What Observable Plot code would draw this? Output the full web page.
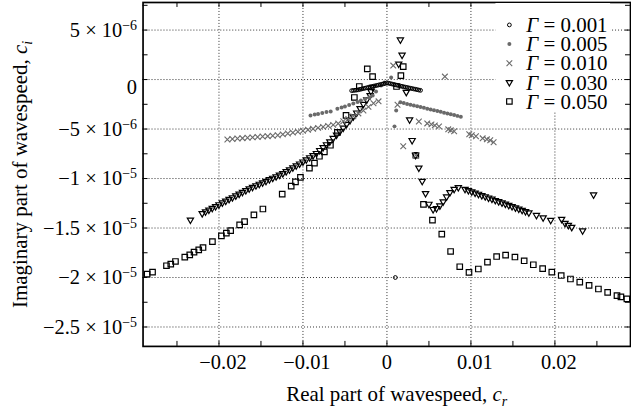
<!DOCTYPE html>
<html><head><meta charset="utf-8">
<script src="https://cdn.jsdelivr.net/npm/d3@7"></script>
<script src="https://cdn.jsdelivr.net/npm/@observablehq/plot@0.6"></script>
<style>html,body{margin:0;padding:0;background:#fff;overflow:hidden;}</style>
</head><body><div id="chart"></div>
<script>
// Γ = 0.001 (open circles)
const g001x = [-0.0042,-0.0040,-0.0038,-0.0036,-0.0034,-0.0032,-0.0030,-0.0028,-0.0026,-0.0024,-0.0022,-0.0020,-0.0018,-0.0016,-0.0014,-0.0012,-0.0010,-0.0008,-0.0006,-0.0004,-0.0002,0.0000,0.0002,0.0004,0.0006,0.0008,0.0010,0.0012,0.0014,0.0016,0.0018,0.0020,0.0022,0.0024,0.0026,0.0028,0.0030,0.0032,0.0034,0.0036,0.0038,0.0040,0.0010];
const g001y = [-1.12e-6,-1.10e-6,-1.08e-6,-1.06e-6,-1.03e-6,-0.99e-6,-0.95e-6,-0.91e-6,-0.87e-6,-0.83e-6,-0.79e-6,-0.75e-6,-0.71e-6,-0.67e-6,-0.63e-6,-0.59e-6,-0.55e-6,-0.51e-6,-0.47e-6,-0.43e-6,-0.39e-6,-0.34e-6,-0.37e-6,-0.41e-6,-0.45e-6,-0.49e-6,-0.53e-6,-0.57e-6,-0.61e-6,-0.65e-6,-0.69e-6,-0.73e-6,-0.77e-6,-0.80e-6,-0.84e-6,-0.88e-6,-0.91e-6,-0.95e-6,-0.98e-6,-1.02e-6,-1.06e-6,-1.09e-6,-20.0e-6];
// Γ = 0.005 (grey filled dots)
const g005x = [-0.0091,-0.0086,-0.0082,-0.0077,-0.0072,-0.0067,-0.0059,-0.0054,-0.0050,-0.0045,-0.0040,-0.0035,-0.0031,-0.0026,-0.0021,-0.0017,-0.0013,-0.0007,-0.0003,0.0005,0.0016,0.0020,0.0024,0.0028,0.0032,0.0036,0.0040,0.0044,0.0048,0.0052,0.0056,0.0060,0.0064,0.0068,0.0072,0.0076,0.0080,0.0084,0.0088,0.0011,0.0009];
const g005y = [-3.62e-6,-3.52e-6,-3.47e-6,-3.37e-6,-3.27e-6,-3.22e-6,-2.95e-6,-2.82e-6,-2.72e-6,-2.57e-6,-2.41e-6,-2.26e-6,-2.11e-6,-1.96e-6,-1.81e-6,-1.61e-6,-1.21e-6,-0.60e-6,-0.30e-6,0.20e-6,-2.30e-6,-2.38e-6,-2.46e-6,-2.54e-6,-2.62e-6,-2.70e-6,-2.78e-6,-2.86e-6,-2.94e-6,-3.02e-6,-3.10e-6,-3.18e-6,-3.26e-6,-3.35e-6,-3.43e-6,-3.51e-6,-3.59e-6,-3.67e-6,-3.75e-6,-3.12e-6,-4.73e-6];
// Γ = 0.010 (grey crosses)
const g010x = [-0.0190,-0.0184,-0.0178,-0.0172,-0.0166,-0.0160,-0.0154,-0.0148,-0.0142,-0.0136,-0.0130,-0.0124,-0.0118,-0.0112,-0.0106,-0.0100,-0.0094,-0.0088,-0.0082,-0.0076,-0.0070,-0.0064,-0.0058,-0.0052,-0.0046,-0.0040,-0.0034,-0.0028,-0.0022,-0.0016,-0.0010,
  0.0038,0.0048,0.0053,0.0057,0.0062,0.0073,0.0076,0.0080,0.0098,0.0101,0.0106,0.0114,0.0119,0.0123,0.0127,
  0.0069,0.00075,0.00126,0.00194,0.00344];
const g010y = [-6.05e-6,-6.00e-6,-5.96e-6,-5.92e-6,-5.88e-6,-5.84e-6,-5.80e-6,-5.76e-6,-5.72e-6,-5.68e-6,-5.63e-6,-5.54e-6,-5.45e-6,-5.36e-6,-5.27e-6,-5.18e-6,-5.08e-6,-4.98e-6,-4.88e-6,-4.78e-6,-4.68e-6,-4.58e-6,-4.45e-6,-4.22e-6,-3.98e-6,-3.72e-6,-3.42e-6,-3.12e-6,-2.76e-6,-2.40e-6,-2.20e-6,
  -4.23e-6,-4.43e-6,-4.53e-6,-4.63e-6,-4.73e-6,-5.03e-6,-5.13e-6,-5.23e-6,-5.53e-6,-5.63e-6,-5.73e-6,-5.94e-6,-6.04e-6,-6.14e-6,-6.34e-6,
  0.30e-6,1.41e-6,-2.55e-6,-6.74e-6,-7.65e-6];
// Γ = 0.030 (open down-triangles)
const g030x = [-0.0234,
  -0.0220,-0.0216,-0.0212,-0.0208,-0.0204,-0.0200,-0.0196,-0.0192,-0.0188,-0.0184,-0.0180,-0.0176,-0.0172,-0.0168,-0.0164,
  -0.0160,-0.0156,-0.0152,-0.0148,-0.0144,-0.0140,-0.0136,-0.0132,-0.0128,-0.0124,
  -0.0120,-0.0116,-0.0112,-0.0108,-0.0104,-0.0100,-0.0096,-0.0092,-0.0088,
  -0.0084,-0.0080,-0.0076,-0.0072,-0.0068,-0.0064,-0.0060,-0.0056,-0.0052,-0.0048,-0.0044,-0.0040,
  -0.0036,-0.0032,-0.0028,-0.0024,-0.0020,-0.0019,-0.0017,
  0.0016,0.0018,0.0014,
  0.0023,0.0027,0.0030,0.0034,0.0038,0.0042,0.0046,0.0050,0.0055,0.0059,0.0063,0.0067,0.0071,0.0075,0.0080,0.0085,
  0.0093,0.0097,0.0101,0.0105,0.0109,0.0113,0.0117,0.0121,0.0125,0.0129,0.0133,0.0137,0.0141,0.0145,0.0149,0.0153,0.0157,0.0161,0.0165,0.0169,
  0.0178,0.0186,0.0195,0.0208,0.0212,0.0216,0.0220,0.0233,0.0246];
const g030y = [-14.18e-6,
  -13.53e-6,-13.35e-6,-13.17e-6,-12.99e-6,-12.81e-6,-12.63e-6,-12.45e-6,-12.27e-6,-12.09e-6,-11.92e-6,-11.74e-6,-11.56e-6,-11.38e-6,-11.20e-6,-11.02e-6,
  -10.87e-6,-10.71e-6,-10.56e-6,-10.41e-6,-10.26e-6,-10.10e-6,-9.95e-6,-9.80e-6,-9.64e-6,-9.49e-6,
  -9.29e-6,-9.10e-6,-8.90e-6,-8.70e-6,-8.51e-6,-8.31e-6,-8.09e-6,-7.88e-6,-7.67e-6,
  -7.45e-6,-7.15e-6,-6.86e-6,-6.57e-6,-6.27e-6,-5.93e-6,-5.59e-6,-5.24e-6,-4.89e-6,-4.51e-6,-4.13e-6,-3.75e-6,
  -3.36e-6,-2.92e-6,-2.48e-6,-2.04e-6,-1.60e-6,-1.20e-6,-0.77e-6,
  4.02e-6,2.48e-6,1.58e-6,
  -1.28e-6,-4.05e-6,-6.14e-6,-7.65e-6,-8.92e-6,-10.26e-6,-11.50e-6,-12.58e-6,-13.11e-6,-13.01e-6,-12.75e-6,-12.34e-6,-11.84e-6,-11.40e-6,-11.07e-6,-10.90e-6,
  -11.07e-6,-11.20e-6,-11.32e-6,-11.45e-6,-11.57e-6,-11.70e-6,-11.82e-6,-11.95e-6,-12.07e-6,-12.20e-6,-12.32e-6,-12.45e-6,-12.57e-6,-12.70e-6,-12.82e-6,-12.95e-6,-13.07e-6,-13.20e-6,-13.32e-6,-13.45e-6,
  -13.71e-6,-13.95e-6,-14.21e-6,-14.11e-6,-14.52e-6,-14.72e-6,-14.92e-6,-15.26e-6,-11.64e-6];
// Γ = 0.050 (open squares)
const g050x = [-0.02855,-0.02791,-0.02625,-0.02574,-0.02518,-0.02407,-0.02348,-0.02297,-0.02241,-0.0219,-0.02078,-0.01971,-0.01912,-0.01861,-0.01754,-0.01695,-0.01584,-0.01477,-0.01247,-0.0114,-0.01089,-0.0103,-0.00923,-0.00863,-0.00804,-0.00745,-0.00673,-0.0059,-0.00487,-0.00388,-0.00329,-0.00234,-0.00171,
  0.00114,0.00166,0.00194,0.00344,0.00435,0.00542,0.00653,0.00758,0.00867,0.00977,0.01088,0.01197,0.01306,0.01413,0.01524,0.01634,0.01743,0.01854,0.01963,0.02075,0.02185,0.02296,0.02407,0.02518,0.02628,0.02739,0.02786,0.02857];
const g050y = [-19.65e-6,-19.45e-6,-18.81e-6,-18.64e-6,-18.38e-6,-17.94e-6,-17.71e-6,-17.43e-6,-17.20e-6,-16.97e-6,-16.37e-6,-15.79e-6,-15.52e-6,-15.26e-6,-14.69e-6,-14.36e-6,-13.68e-6,-13.08e-6,-11.57e-6,-10.76e-6,-10.33e-6,-9.89e-6,-8.95e-6,-8.45e-6,-7.75e-6,-7.31e-6,-6.64e-6,-5.33e-6,-3.62e-6,-1.81e-6,-0.70e-6,1.08e-6,0.30e-6,
  -0.70e-6,0.40e-6,1.31e-6,-7.65e-6,-12.61e-6,-14.21e-6,-15.62e-6,-17.37e-6,-18.91e-6,-19.49e-6,-19.14e-6,-18.44e-6,-17.88e-6,-17.74e-6,-17.93e-6,-18.31e-6,-18.71e-6,-19.11e-6,-19.45e-6,-19.80e-6,-20.15e-6,-20.47e-6,-20.79e-6,-21.16e-6,-21.50e-6,-21.83e-6,-21.96e-6,-22.16e-6];

const seriesLabels = ["0.001","0.005","0.010","0.030","0.050"];
const xGridValues = [-0.02,-0.01,0,0.01,0.02];
const xTickLabels = ["−0.02","−0.01","0","0.01","0.02"];
const yGridValues = [5e-6,0,-5e-6,-1e-5,-1.5e-5,-2e-5,-2.5e-5];
const yTickLabels = ["5 × 10^−6","0","−5 × 10^−6","−1 × 10^−5","−1.5 × 10^−5","−2 × 10^−5","−2.5 × 10^−5"];
const xMinorTicks = [-0.025,-0.02,-0.015,-0.01,-0.005,0,0.005,0.01,0.015,0.02,0.025];
const yMinorTicks = [7.5e-6,5e-6,2.5e-6,0,-2.5e-6,-5e-6,-7.5e-6,-1e-5,-1.25e-5,-1.5e-5,-1.75e-5,-2e-5,-2.25e-5,-2.5e-5];
const xDomain = [-0.02904, 0.029];
const yDomain = [-2.696e-5, 7.786e-6];

const rows = (xs, ys) => xs.map((x, i) => ({x, y: ys[i]}));
const triDown = {draw(ctx, size) {
  const s = Math.sqrt(size) * 0.6824, t = s / 2, u = s * Math.sqrt(3) / 2;
  ctx.moveTo(0, s); ctx.lineTo(u, -t); ctx.lineTo(-u, -t); ctx.closePath();
}};
const grey = "#6a6a6a";
const FONT = "'Liberation Serif', 'Times New Roman', serif";
const TICK_FS = 20.5;

const xt = xGridValues.map((v, i) => ({v, label: xTickLabels[i]}));
const yt = yGridValues.map((v, i) => ({v, label: yTickLabels[i]}));

const chart = Plot.plot({
  width: 633, height: 413,
  marginLeft: 143, marginRight: 1, marginTop: 2, marginBottom: 66,
  x: {domain: xDomain, axis: null},
  y: {domain: yDomain, axis: null},
  style: {fontFamily: FONT, background: "white", color: "black"},
  marks: [
    Plot.gridX(xGridValues, {stroke: "#333", strokeOpacity: 1, strokeDasharray: "1,2"}),
    Plot.gridY(yGridValues, {stroke: "#333", strokeOpacity: 1, strokeDasharray: "1,2"}),
    Plot.ruleX(xMinorTicks, {x: d => d, y1: yDomain[0], y2: yDomain[0], insetTop: -5, stroke: "black"}),
    Plot.ruleX(xMinorTicks, {x: d => d, y1: yDomain[1], y2: yDomain[1], insetBottom: -5, stroke: "black"}),
    Plot.ruleY(yMinorTicks, {y: d => d, x1: xDomain[0], x2: xDomain[0], insetRight: -5, stroke: "black"}),
    Plot.ruleY(yMinorTicks, {y: d => d, x1: xDomain[1], x2: xDomain[1], insetLeft: -5, stroke: "black"}),
    Plot.dot(rows(g050x, g050y), {x: "x", y: "y", symbol: d3.symbolSquare2, r: 3.5, stroke: "black", strokeWidth: 1.2, fill: "none"}),
    Plot.dot(rows(g030x, g030y), {x: "x", y: "y", symbol: triDown, r: 3, stroke: "black", strokeWidth: 1.2, fill: "none"}),
    Plot.dot(rows(g010x, g010y), {x: "x", y: "y", symbol: "times", r: 2.7, stroke: grey, strokeWidth: 1.1}),
    Plot.dot(rows(g005x, g005y), {x: "x", y: "y", r: 2, fill: grey, stroke: "none"}),
    Plot.dot(rows(g001x, g001y), {x: "x", y: "y", r: 1.9, stroke: "black", strokeWidth: 1, fill: "none"}),
    Plot.frame({stroke: "black", strokeWidth: 1.7}),
    // text marks (order matters for post-processing below)
    Plot.text(xt.filter(d => d.v !== 0), {x: "v", text: "label", frameAnchor: "bottom", lineAnchor: "middle", dy: 16, dx: 4, fontSize: TICK_FS}),
    Plot.text(xt.filter(d => d.v === 0), {x: "v", text: "label", frameAnchor: "bottom", lineAnchor: "middle", dy: 16, fontSize: TICK_FS}),
    Plot.text(yt.filter(d => d.v !== 0), {y: "v", text: "label", frameAnchor: "left", textAnchor: "end", lineAnchor: "middle", dx: -6, fontSize: TICK_FS}),
    Plot.text(yt.filter(d => d.v === 0), {y: "v", text: "label", frameAnchor: "left", textAnchor: "end", lineAnchor: "middle", dx: -6, dy: 8, fontSize: TICK_FS}),
    Plot.text(["Real part of wavespeed, "], {text: d => d, frameAnchor: "bottom", textAnchor: "middle", lineAnchor: "middle", dx: 10, dy: 48, fontSize: 21}),
    Plot.text(["Imaginary part of wavespeed, "], {text: d => d, frameAnchor: "left", textAnchor: "middle", lineAnchor: "middle", rotate: -90, dx: -123, fontSize: 21})
  ]
});
document.getElementById("chart").appendChild(chart);

const svg = d3.select(chart);
const textGroups = svg.selectAll('g[aria-label="text"]').nodes();
// superscripts in y tick labels
d3.selectAll([textGroups[2], textGroups[3]]).selectAll("text").each(function() {
  const parts = this.textContent.split("^");
  if (parts.length < 2) return;
  this.textContent = "";
  d3.select(this).append("tspan").text(parts[0]);
  d3.select(this).append("tspan").attr("font-size", 14).attr("dy", -7).text(parts[1]);
});
// italic symbols with subscripts in axis titles
function addSym(g, base, sub) {
  d3.select(g).selectAll("text").each(function() {
    d3.select(this).style("white-space", "pre");
    d3.select(this).append("tspan").attr("font-style", "italic").text(base);
    d3.select(this).append("tspan").attr("font-style", "italic").attr("font-size", 14).attr("dy", 5).text(sub);
  });
}
addSym(textGroups[4], "c", "r");
addSym(textGroups[5], "c", "i");

// legend
const lg = svg.append("g").attr("font-family", FONT).attr("font-size", 21).attr("text-anchor", "start");
lg.append("rect").attr("x", 497).attr("y", 3).attr("width", 115).attr("height", 109).attr("fill", "white");
const rowY = [25, 44.2, 63.4, 82.6, 101.8];
const symX = 511;
const legendSyms = [
  {type: d3.symbolCircle, size: Math.PI * 1.9 * 1.9, fill: "none", stroke: "black", sw: 1},
  {type: d3.symbolCircle, size: Math.PI * 4, fill: grey, stroke: "none", sw: 0},
  {type: d3.symbolTimes, size: Math.PI * 2.7 * 2.7, fill: "none", stroke: grey, sw: 1.1},
  {type: triDown, size: Math.PI * 9, fill: "none", stroke: "black", sw: 1.2},
  {type: d3.symbolSquare2, size: Math.PI * 3.5 * 3.5, fill: "none", stroke: "black", sw: 1.2}
];
seriesLabels.forEach((lab, i) => {
  const s = legendSyms[i];
  lg.append("path").attr("d", d3.symbol(s.type, s.size)()).attr("transform", `translate(${symX},${rowY[i]})`)
    .attr("fill", s.fill).attr("stroke", s.stroke).attr("stroke-width", s.sw);
  const t = lg.append("text").attr("x", 528).attr("y", rowY[i] + 7.3).attr("text-anchor", "start");
  t.append("tspan").attr("font-style", "italic").text("Γ");
  t.append("tspan").text(" = " + lab);
});
</script>
</body></html>
